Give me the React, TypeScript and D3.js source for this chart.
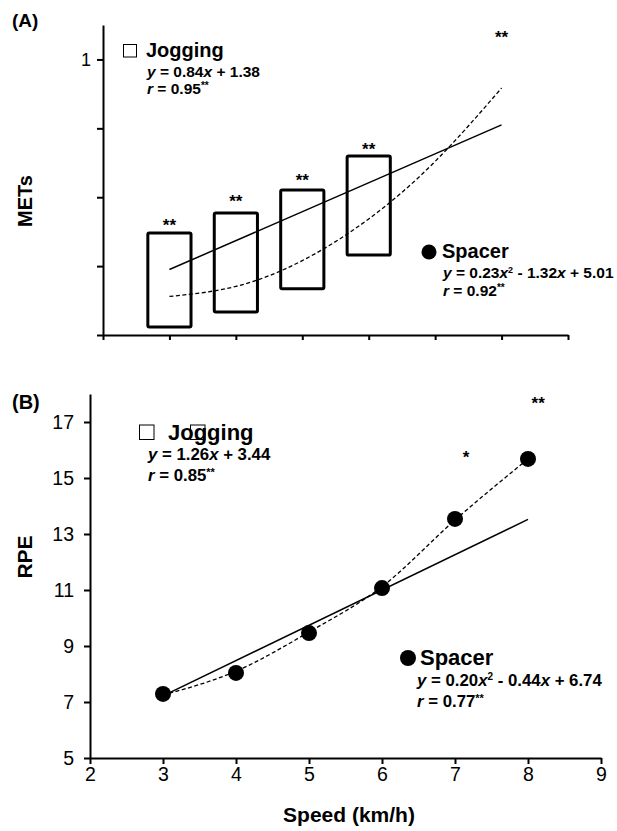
import * as d3 from 'd3';
import { useEffect, useRef } from 'react';

// speeds (km/h)
const speeds = [3, 4, 5, 6, 7, 8];

// panel A: METs
const metsBoxSpeeds = [3, 4, 5, 6];
const metsBoxLow = [2.23, 2.67, 3.34, 4.32];
const metsBoxHigh = [4.96, 5.54, 6.21, 7.2];
const metsJogFitX = [3, 8];
const metsJogFit = [3.9, 8.1];
const metsSpacerFit = [3.12, 3.41, 4.16, 5.37, 7.04, 9.17];
const metsSigSpeeds = [3, 4, 5, 6, 8];
const metsSigY = [5.31, 6.01, 6.62, 7.52, 10.77];
const metsSigLabels = ['**', '**', '**', '**', '**'];
const metsTicks = [2, 4, 6, 8, 10];

// panel B: RPE
const rpeSpacer = [7.29, 8.04, 9.46, 11.07, 13.54, 15.68];
const rpeSpacerFit = [7.25, 8.1, 9.5, 11.12, 13.5, 15.68];
const rpeJogFitX = [3, 8];
const rpeJogFit = [7.22, 13.52];
const rpeSigSpeeds = [7.15, 8.14];
const rpeSigY = [15.89, 17.82];
const rpeSigLabels = ['*', '**'];
const rpeTicks = [5, 7, 9, 11, 13, 15, 17];
const speedTicks = [2, 3, 4, 5, 6, 7, 8, 9];

const FONT = '"Liberation Sans", Arial, Helvetica, sans-serif';

const App = () => {
  const chartRef = useRef(null);

  useEffect(() => {
    const svg = d3.select(chartRef.current);
    svg.selectAll('*').remove();
    svg.style('font-family', FONT);

    const xA = d3.scaleLinear().domain([2, 9]).range([103, 568]);
    const yA = d3.scaleLinear().domain([2, 11]).range([335, 25]);
    const xB = d3.scaleLinear().domain([2, 9]).range([90, 601]);
    const yB = d3.scaleLinear().domain([5, 18]).range([758, 394]);

    const styleAxis = (g, size) => {
      g.attr('font-family', FONT).attr('font-size', size);
      g.selectAll('path, line').attr('stroke', '#000').attr('stroke-width', 2);
      g.selectAll('text').attr('fill', '#000');
    };

    // ---- panel A ----
    svg
      .append('g')
      .attr('transform', `translate(0, ${yA(2)})`)
      .call(d3.axisBottom(xA).tickValues(speedTicks).tickSize(5).tickSizeOuter(0).tickFormat(() => ''))
      .call((g) => styleAxis(g, 18));

    svg
      .append('g')
      .attr('transform', `translate(${xA(2)}, 0)`)
      .call(
        d3
          .axisLeft(yA)
          .tickValues(metsTicks)
          .tickSize(6)
          .tickSizeOuter(0)
          .tickPadding(6)
          .tickFormat((d) => (d === 10 ? '1' : ''))
      )
      .call((g) => styleAxis(g, 18));

    const boxW = 0.325;
    svg
      .selectAll('.box')
      .data(metsBoxSpeeds)
      .enter()
      .append('rect')
      .attr('x', (d) => xA(d - boxW))
      .attr('y', (d, i) => yA(metsBoxHigh[i]))
      .attr('width', (d) => xA(d + boxW) - xA(d - boxW))
      .attr('height', (d, i) => yA(metsBoxLow[i]) - yA(metsBoxHigh[i]))
      .attr('rx', 1.5)
      .style('fill', 'none')
      .style('stroke', '#000')
      .style('stroke-width', 3);

    const lineA = d3.line().x((d) => xA(d[0])).y((d) => yA(d[1]));
    svg
      .append('path')
      .attr('d', lineA(metsJogFitX.map((s, i) => [s, metsJogFit[i]])))
      .style('fill', 'none')
      .style('stroke', '#000')
      .style('stroke-width', 1.5);

    svg
      .append('path')
      .attr('d', lineA.curve(d3.curveNatural)(speeds.map((s, i) => [s, metsSpacerFit[i]])))
      .style('fill', 'none')
      .style('stroke', '#000')
      .style('stroke-width', 1.3)
      .style('stroke-dasharray', '4 2.5');

    svg
      .selectAll('.sigA')
      .data(metsSigSpeeds)
      .enter()
      .append('text')
      .attr('x', (d) => xA(d))
      .attr('y', (d, i) => yA(metsSigY[i]) + 10)
      .attr('text-anchor', 'middle')
      .attr('font-size', 17)
      .attr('font-weight', 'bold')
      .text((d, i) => metsSigLabels[i]);

    // ---- panel B ----
    svg
      .append('g')
      .attr('transform', `translate(0, ${yB(5)})`)
      .call(
        d3
          .axisBottom(xB)
          .tickValues(speedTicks)
          .tickSize(6)
          .tickSizeOuter(0)
          .tickPadding(3)
          .tickFormat(d3.format('d'))
      )
      .call((g) => styleAxis(g, 19.5));

    svg
      .append('g')
      .attr('transform', `translate(${xB(2)}, 0)`)
      .call(
        d3
          .axisLeft(yB)
          .tickValues(rpeTicks)
          .tickSize(6)
          .tickSizeOuter(0)
          .tickPadding(10)
          .tickFormat(d3.format('d'))
      )
      .call((g) => styleAxis(g, 19.5));

    const lineB = d3.line().x((d) => xB(d[0])).y((d) => yB(d[1]));
    svg
      .append('path')
      .attr('d', lineB(rpeJogFitX.map((s, i) => [s, rpeJogFit[i]])))
      .style('fill', 'none')
      .style('stroke', '#000')
      .style('stroke-width', 1.5);

    svg
      .append('path')
      .attr('d', lineB.curve(d3.curveMonotoneX)(speeds.map((s, i) => [s, rpeSpacerFit[i]])))
      .style('fill', 'none')
      .style('stroke', '#000')
      .style('stroke-width', 1.3)
      .style('stroke-dasharray', '4 2.5');

    svg
      .selectAll('.dotB')
      .data(speeds)
      .enter()
      .append('circle')
      .attr('cx', (d) => xB(d))
      .attr('cy', (d, i) => yB(rpeSpacer[i]))
      .attr('r', 8)
      .style('fill', '#000');

    svg
      .selectAll('.sigB')
      .data(rpeSigSpeeds)
      .enter()
      .append('text')
      .attr('x', (d) => xB(d))
      .attr('y', (d, i) => yB(rpeSigY[i]) + 10)
      .attr('text-anchor', 'middle')
      .attr('font-size', 17)
      .attr('font-weight', 'bold')
      .text((d, i) => rpeSigLabels[i]);
  }, []);

  const eq = (x, y, size, parts) => (
    <text x={x} y={y} fontSize={size} fontWeight="bold">
      {parts}
    </text>
  );

  return (
    <svg
      width={617}
      height={831}
      style={{ position: 'absolute', left: 0, top: 0, background: '#fff', fontFamily: FONT }}
    >
      <g ref={chartRef} />

      {/* panel labels */}
      <text x={12} y={27} fontSize={19} fontWeight="bold">(A)</text>
      <text x={12} y={409} fontSize={20} fontWeight="bold">(B)</text>

      {/* axis titles */}
      <text transform="translate(32, 201) rotate(-90)" textAnchor="middle" fontSize={20} fontWeight="bold">
        METs
      </text>
      <text transform="translate(32, 557) rotate(-90)" textAnchor="middle" fontSize={21} fontWeight="bold">
        RPE
      </text>
      <text x={349} y={822} textAnchor="middle" fontSize={21} fontWeight="bold">
        Speed (km/h)
      </text>

      {/* legend A */}
      <rect x={123.5} y={44.5} width={13} height={12.5} fill="none" stroke="#000" strokeWidth={1} />
      <text x={146} y={57} fontSize={20} fontWeight="bold">Jogging</text>
      {eq(147, 77, 15.5, [
        <tspan key="a" fontStyle="italic">y</tspan>,
        ' = 0.84',
        <tspan key="b" fontStyle="italic">x</tspan>,
        ' + 1.38',
      ])}
      {eq(147, 94, 15.5, [
        <tspan key="a" fontStyle="italic">r</tspan>,
        ' = 0.95',
        <tspan key="b" fontSize={10} dy={-5}>**</tspan>,
      ])}

      <circle cx={429} cy={252} r={7.5} fill="#000" />
      <text x={442} y={258} fontSize={20} fontWeight="bold">Spacer</text>
      {eq(443, 278, 15.5, [
        <tspan key="a" fontStyle="italic">y</tspan>,
        ' = 0.23',
        <tspan key="b" fontStyle="italic">x</tspan>,
        <tspan key="c" fontSize={9} dy={-5}>2</tspan>,
        <tspan key="d" dy={5}> - 1.32</tspan>,
        <tspan key="e" fontStyle="italic">x</tspan>,
        ' + 5.01',
      ])}
      {eq(443, 296, 15.5, [
        <tspan key="a" fontStyle="italic">r</tspan>,
        ' = 0.92',
        <tspan key="b" fontSize={10} dy={-5}>**</tspan>,
      ])}

      {/* legend B */}
      <rect x={139.5} y={425} width={14.5} height={14.5} fill="none" stroke="#000" strokeWidth={1} />
      <text x={168} y={440} fontSize={22} fontWeight="bold">Jogging</text>
      <rect x={190.5} y={425} width={14.5} height={14.5} fill="none" stroke="#000" strokeWidth={1} />
      {eq(148, 460, 16.8, [
        <tspan key="a" fontStyle="italic">y</tspan>,
        ' = 1.26',
        <tspan key="b" fontStyle="italic">x</tspan>,
        ' + 3.44',
      ])}
      {eq(148, 481, 16.8, [
        <tspan key="a" fontStyle="italic">r</tspan>,
        ' = 0.85',
        <tspan key="b" fontSize={11} dy={-5}>**</tspan>,
      ])}

      <circle cx={408} cy={658} r={8} fill="#000" />
      <text x={420} y={665} fontSize={22} fontWeight="bold">Spacer</text>
      {eq(417, 686, 16.8, [
        <tspan key="a" fontStyle="italic">y</tspan>,
        ' = 0.20',
        <tspan key="b" fontStyle="italic">x</tspan>,
        <tspan key="c" fontSize={10} dy={-6}>2</tspan>,
        <tspan key="d" dy={6}> - 0.44</tspan>,
        <tspan key="e" fontStyle="italic">x</tspan>,
        ' + 6.74',
      ])}
      {eq(417, 707, 16.8, [
        <tspan key="a" fontStyle="italic">r</tspan>,
        ' = 0.77',
        <tspan key="b" fontSize={11} dy={-5}>**</tspan>,
      ])}
    </svg>
  );
};

export default App;
